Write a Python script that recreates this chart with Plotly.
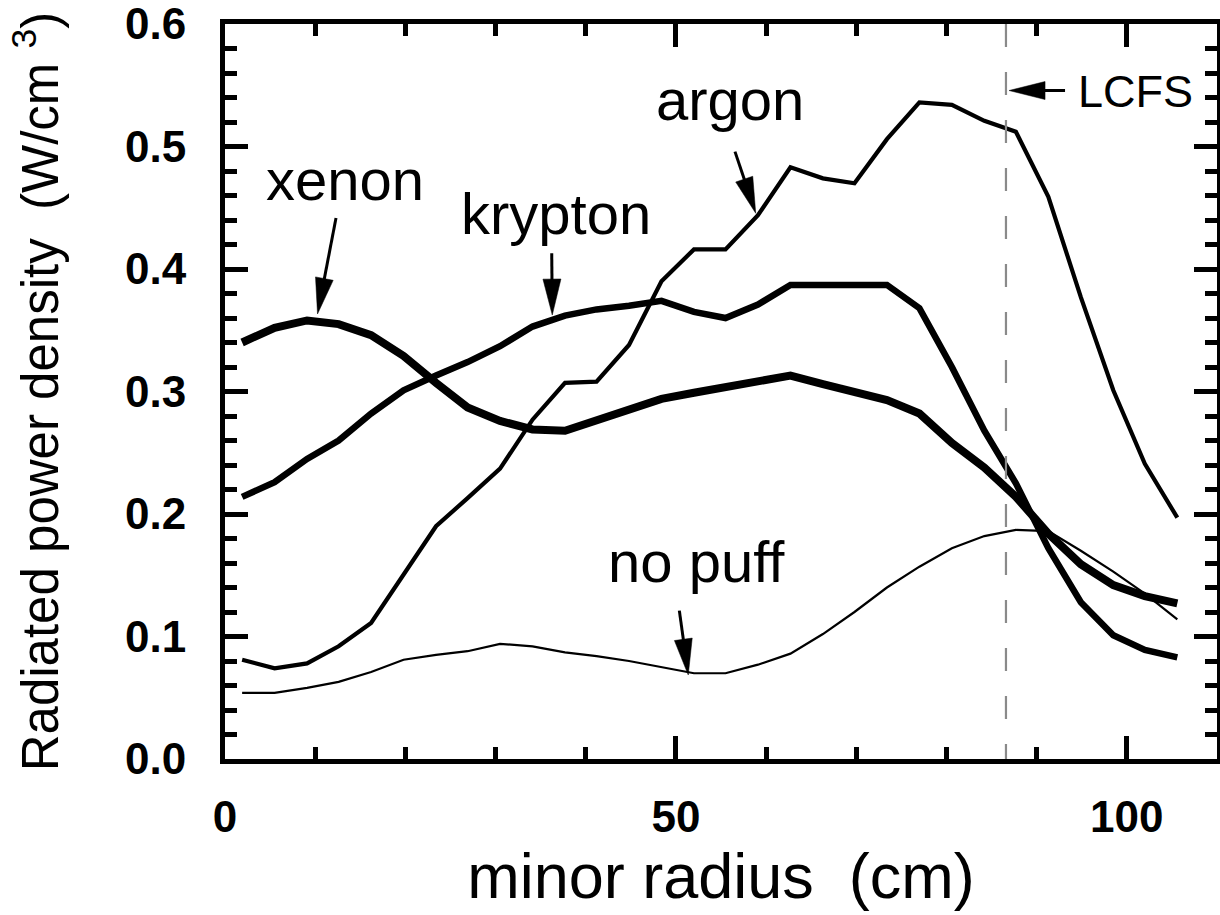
import plotly.graph_objects as go

# ---------------- data ----------------
radius_cm = [1.9, 5.5, 9.1, 12.6, 16.2, 19.8, 23.4, 26.9, 30.5, 34.1,
             37.7, 41.2, 44.8, 48.4, 52.0, 55.5, 59.1, 62.7, 66.3, 69.8,
             73.4, 77.0, 80.6, 84.2, 87.7, 91.3, 94.9, 98.5, 102.0, 105.6]

xenon = [0.340, 0.352, 0.358, 0.355, 0.346, 0.329, 0.307, 0.287, 0.276, 0.269,
         0.268, 0.277, 0.286, 0.294, 0.299, 0.304, 0.309, 0.313, 0.306, 0.299,
         0.293, 0.282, 0.258, 0.238, 0.214, 0.184, 0.159, 0.142, 0.133, 0.127]

krypton = [0.214, 0.226, 0.245, 0.260, 0.282, 0.301, 0.313, 0.324, 0.337, 0.353,
           0.362, 0.367, 0.370, 0.374, 0.365, 0.360, 0.371, 0.387, 0.387, 0.387,
           0.387, 0.368, 0.320, 0.268, 0.225, 0.172, 0.128, 0.101, 0.089, 0.083]

argon = [0.081, 0.074, 0.078, 0.092, 0.111, 0.150, 0.190, 0.213, 0.237, 0.277,
         0.307, 0.308, 0.338, 0.390, 0.416, 0.416, 0.444, 0.483, 0.474, 0.470,
         0.506, 0.536, 0.534, 0.521, 0.512, 0.459, 0.377, 0.301, 0.241, 0.197]

no_puff = [0.054, 0.054, 0.058, 0.063, 0.071, 0.081, 0.085, 0.088, 0.094, 0.092,
           0.087, 0.084, 0.080, 0.075, 0.070, 0.070, 0.077, 0.086, 0.102, 0.120,
           0.140, 0.157, 0.172, 0.182, 0.187, 0.186, 0.170, 0.153, 0.135, 0.114]

lcfs_radius = 86.6

x_tickvals = [0, 50, 100]
y_tickvals = [0.0, 0.1, 0.2, 0.3, 0.4, 0.5, 0.6]

# label text positions (data coords)
labels = [
    ("xenon", 13.3, 0.4727, 58),
    ("krypton", 36.7, 0.4457, 58),
    ("argon", 56.0, 0.538, 58),
    ("no puff", 52.3, 0.1616, 58),
    ("LCFS", 101.0, 0.545, 45),
]
# arrows: (tail x, tail y, tip x, tip y)
arrows = [
    (12.31, 0.4416, 10.26, 0.3633),
    (36.23, 0.4128, 36.29, 0.3624),
    (56.55, 0.4958, 58.85, 0.4455),
    (50.38, 0.1211, 51.37, 0.0686),
    (93.15, 0.5457, 86.94, 0.5457),
]

# ---------------- layout geometry ----------------
W, H = 1220, 915
ML, MR, MT, MB = 225, 3, 24, 156
XR = [0, 110]
YR = [0, 0.6]
PW = W - ML - MR
PH = H - MT - MB
SX = PW / (XR[1] - XR[0])
SY = PH / (YR[1] - YR[0])

FONT = "Liberation Sans, Arial, Helvetica, sans-serif"

fig = go.Figure()

series = [
    ("no puff", no_puff, 2.2),
    ("argon", argon, 4.2),
    ("krypton", krypton, 6.5),
    ("xenon", xenon, 8.0),
]
for name, ys, w in series:
    fig.add_trace(go.Scatter(x=radius_cm, y=ys, mode="lines", name=name,
                             line=dict(color="black", width=w),
                             showlegend=False))

shapes = []
# LCFS dashed line
shapes.append(dict(type="line", xref="x", yref="y", x0=lcfs_radius, x1=lcfs_radius,
                   y0=YR[1], y1=YR[0], line=dict(color="#8a8a8a", width=2.2, dash="23px,25px")))

HEAD_LEN, HEAD_W, SHAFT_W = 36, 18, 3
for tx, ty, hx, hy in arrows:
    dxp = (tx - hx) * SX
    dyp = -(ty - hy) * SY
    L = (dxp ** 2 + dyp ** 2) ** 0.5
    ux, uy = dxp / L, dyp / L
    bx, by = HEAD_LEN * ux, HEAD_LEN * uy
    nx, ny = -uy, ux
    p1 = (bx + nx * HEAD_W / 2, by + ny * HEAD_W / 2)
    p2 = (bx - nx * HEAD_W / 2, by - ny * HEAD_W / 2)

    def to_data(p):
        return hx + p[0] / SX, hy - p[1] / SY
    base = to_data((bx * 0.9, by * 0.9))
    shapes.append(dict(type="line", xref="x", yref="y", x0=tx, y0=ty, x1=base[0], y1=base[1],
                       line=dict(color="black", width=SHAFT_W)))
    a, b = to_data(p1), to_data(p2)
    path = f"M {hx},{hy} L {a[0]},{a[1]} L {b[0]},{b[1]} Z"
    shapes.append(dict(type="path", xref="x", yref="y", path=path,
                       fillcolor="black", line=dict(color="black", width=0.5)))

annotations = []
for text, x, y, size in labels:
    annotations.append(dict(x=x, y=y, xref="x", yref="y", text=text, showarrow=False,
                            xanchor="center", yanchor="middle",
                            font=dict(family=FONT, size=size, color="black")))

axis_common = dict(showline=True, linewidth=5, linecolor="black", mirror="allticks",
                   ticks="inside", ticklen=23, tickwidth=5, tickcolor="black",
                   showgrid=False, zeroline=False, ticklabeloverflow="allow",
                   tickfont=dict(family=FONT, size=44, color="black", weight="bold"))

fig.update_layout(
    width=W, height=H,
    margin=dict(l=ML, r=MR, t=MT, b=MB, autoexpand=False),
    paper_bgcolor="white", plot_bgcolor="white",
    shapes=shapes, annotations=annotations,
    xaxis=dict(range=XR, tickvals=x_tickvals, ticktext=[str(v) for v in x_tickvals],
               minor=dict(dtick=10, tick0=0, ticks="inside", ticklen=12, tickwidth=5, tickcolor="black"),
               ticklabelstandoff=15,
               title=dict(text="minor radius  (cm)", standoff=12,
                          font=dict(family=FONT, size=63, color="black")),
               **axis_common),
    yaxis=dict(range=YR, tickvals=y_tickvals, tickformat=".1f",
               minor=dict(dtick=0.02, tick0=0, ticks="inside", ticklen=12, tickwidth=5, tickcolor="black"),
               ticklabelstandoff=25,
               title=dict(text="Radiated power density  (W/cm <sup>3</sup>)", standoff=52,
                          font=dict(family=FONT, size=51, color="black")),
               **axis_common),
)

fig.write_html("out.html")
